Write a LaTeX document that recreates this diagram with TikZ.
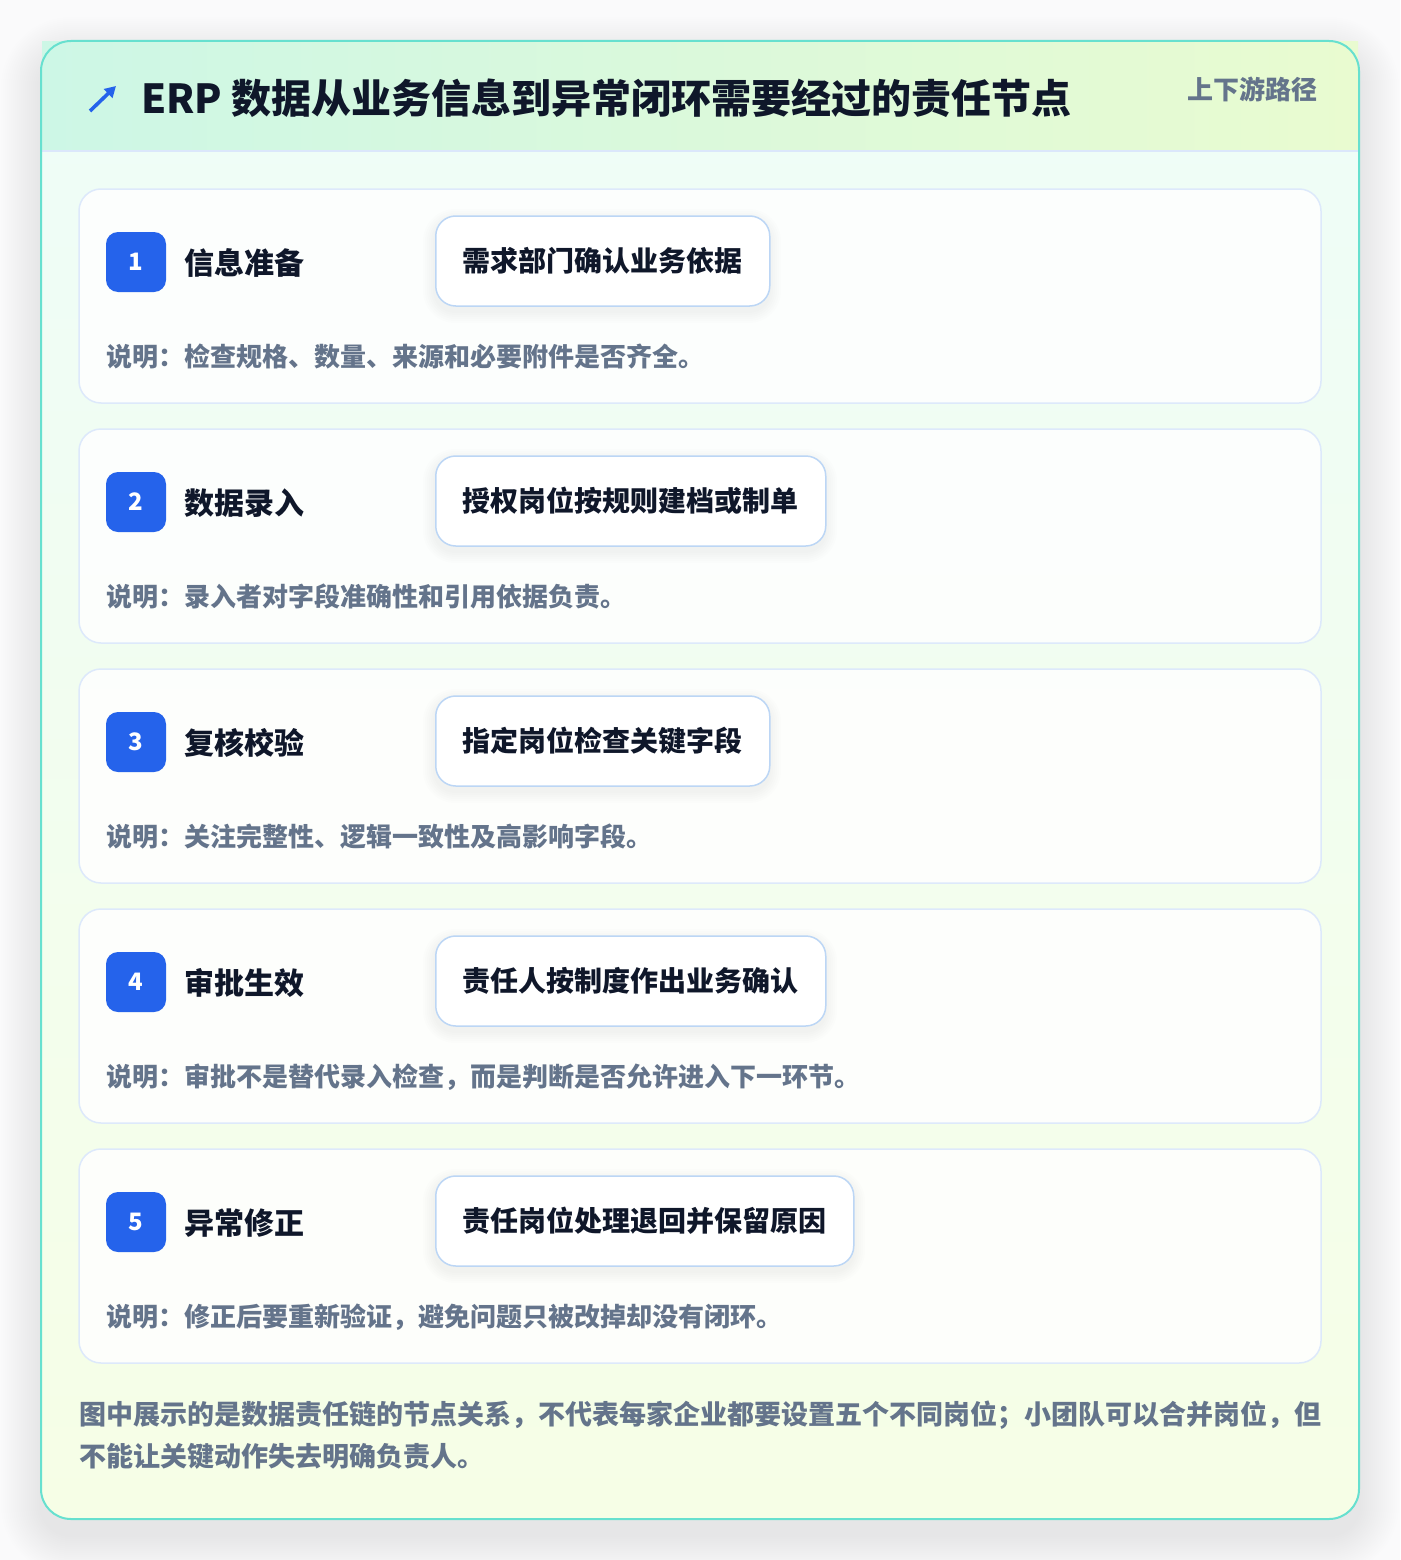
\documentclass[tikz,border=0pt]{standalone}
\usepackage{fontspec}
\setmainfont{Noto Sans CJK SC}
\usetikzlibrary{arrows.meta}
\definecolor{pagebg}{HTML}{FAFAFB}
\definecolor{tealline}{HTML}{67E0CF}
\definecolor{headL}{HTML}{CDF7E6}
\definecolor{headR}{HTML}{E9FBD0}
\definecolor{headline}{HTML}{DBE7FB}
\definecolor{bodyT}{HTML}{EEFDF8}
\definecolor{bodyB}{HTML}{F6FEE6}
\definecolor{cardline}{HTML}{DDE9FB}
\definecolor{pillline}{HTML}{BCD6F5}
\definecolor{accent}{HTML}{2563EB}
\definecolor{ink}{HTML}{0F172A}
\definecolor{muted}{HTML}{64748B}
\tikzset{
  stepcard/.style={draw=cardline, line width=1.5pt, fill=white, fill opacity=0.85, rounded corners=22pt},
  badge/.style={fill=accent, rounded corners=12pt, minimum width=60pt, minimum height=60pt, inner sep=0pt, text=white, font=\bfseries\fontsize{24}{28}\selectfont},
  steplabel/.style={anchor=west, inner sep=0pt, text=ink, font=\bfseries\fontsize{30}{36}\selectfont},
  pill/.style={anchor=west, draw=pillline, line width=1.5pt, fill=white, rounded corners=20pt, minimum height=90pt, inner sep=0pt, text=ink, font=\bfseries\fontsize{28}{34}\selectfont},
  desc/.style={anchor=west, inner sep=0pt, text=muted, font=\bfseries\fontsize{26}{32}\selectfont},
  foot/.style={anchor=west, inner sep=0pt, text=muted, font=\bfseries\fontsize{27}{34}\selectfont},
  softshade/.style={fill=black, opacity=#1},
}
\begin{document}
\begin{tikzpicture}[x=1pt,y=-1pt]
\useasboundingbox (0,0) rectangle (1400,1560);
\fill[pagebg] (0,0) rectangle (1400,1560);
% soft shadow of the main card
\foreach \s in {2,4,...,40}{
  \pgfmathsetmacro{\rc}{30+\s}
  \fill[softshade=0.0045, rounded corners=\rc pt] (41-\s,41-\s+16) rectangle (1359+\s,1519+\s+16);
}
\shade[rounded corners=30pt, top color=bodyT, bottom color=bodyB] (41,41) rectangle (1359,1519);
% header band
\shade[left color=headL, right color=headR] (42,42) rectangle (1358,151);
\draw[headline, line width=1.5pt] (42,151) -- (1358,151);
\draw[tealline, line width=2pt, rounded corners=30pt] (41,41) rectangle (1359,1519);
% icon
\coordinate (iconA) at (90,111);
\coordinate (iconB) at (116,86);
\draw[accent, line width=3.6pt, -{Triangle[length=11pt,width=12pt]}] (iconA) -- (iconB);
\node[anchor=west, inner sep=0pt, text=ink, font=\bfseries\fontsize{40}{48}\selectfont] (title) at (141,98) {ERP 数据从业务信息到异常闭环需要经过的责任节点};
\node[anchor=east, inner sep=0pt, text=muted, font=\bfseries\fontsize{26}{32}\selectfont] (tag) at (1318,89) {上下游路径};
% steps
\foreach \i/\lab/\pilltext/\w/\desctext in {
  1/信息准备/需求部门确认业务依据/334/说明：检查规格、数量、来源和必要附件是否齐全。,
  2/数据录入/授权岗位按规则建档或制单/390/说明：录入者对字段准确性和引用依据负责。,
  3/复核校验/指定岗位检查关键字段/334/说明：关注完整性、逻辑一致性及高影响字段。,
  4/审批生效/责任人按制度作出业务确认/390/说明：审批不是替代录入检查，而是判断是否允许进入下一环节。,
  5/异常修正/责任岗位处理退回并保留原因/418/说明：修正后要重新验证，避免问题只被改掉却没有闭环。}{
  \pgfmathsetmacro{\top}{189+240*(\i-1)}
  \path[stepcard] (79,\top) rectangle (1321,\top+214);
  \foreach \s in {2,4,...,12}{
    \pgfmathsetmacro{\rc}{20+\s}
    \fill[softshade=0.008, rounded corners=\rc pt] (435-\s,\top+27-\s+5) rectangle (435+\w+\s,\top+117+\s+5);
  }
  \node[badge] (badge\i) at (136,\top+73) {\i};
  \node[steplabel] (label\i) at (184,\top+74) {\lab};
  \node[pill, minimum width=\w pt] (pill\i) at (435,\top+72) {\pilltext};
  \node[desc] (desc\i) at (106,\top+168) {\desctext};
}
\node[foot] (foot1) at (79,1415) {图中展示的是数据责任链的节点关系，不代表每家企业都要设置五个不同岗位；小团队可以合并岗位，但};
\node[foot] (foot2) at (79,1456) {不能让关键动作失去明确负责人。};
\end{tikzpicture}
\end{document}
